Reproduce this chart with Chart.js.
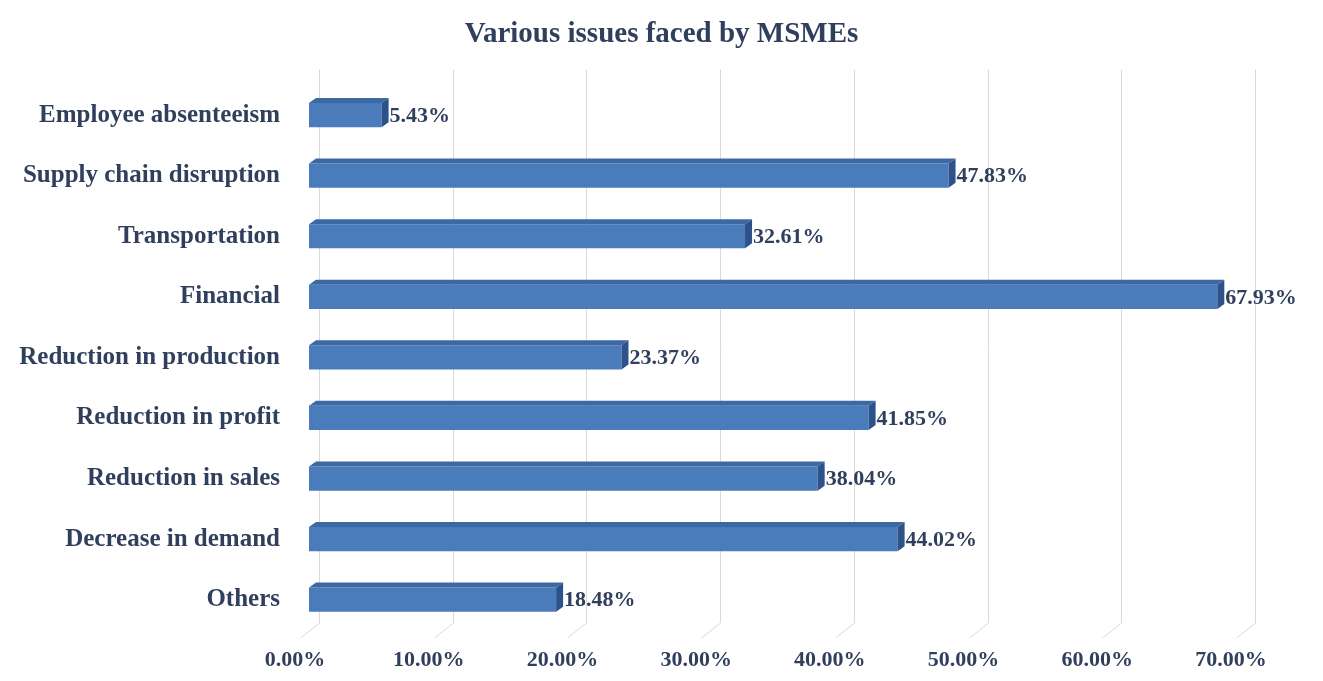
<!DOCTYPE html>
<html>
<head>
<meta charset="utf-8">
<script src="https://cdn.jsdelivr.net/npm/chart.js@4.4.0/dist/chart.umd.min.js"></script>
<style>
  html, body { margin: 0; padding: 0; background: #fff; }
  #wrap { width: 1323px; height: 681px; }
</style>
</head>
<body>
<div id="wrap"><canvas id="issuesChart"></canvas></div>
<script>
// categories, top to bottom as in the picture
const issues = ['Employee absenteeism', 'Supply chain disruption', 'Transportation', 'Financial',
    'Reduction in production', 'Reduction in profit', 'Reduction in sales', 'Decrease in demand', 'Others'];
const shares = [5.43, 47.83, 32.61, 67.93, 23.37, 41.85, 38.04, 44.02, 18.48]; // %
const tickValues = [0, 10, 20, 30, 40, 50, 60, 70];

const textColor = '#2f3f5c';
const serif = '"Liberation Serif", "DejaVu Serif", serif';
const DX = 7, DY = 5; // 3d depth of the bars

// grid drawn as a back wall with a little slanted foot, like the excel 3d bar
const wallGrid = {
    id: 'wallGrid',
    beforeDatasetsDraw(chart) {
        const { ctx, chartArea, scales } = chart;
        ctx.save();
        ctx.strokeStyle = '#d9d9d9';
        ctx.lineWidth = 1;
        tickValues.forEach(v => {
            const x = Math.round(scales.x.getPixelForValue(v)) + 10.5;
            ctx.beginPath();
            ctx.moveTo(x, chartArea.top - 15);
            ctx.lineTo(x, chartArea.bottom - 7);
            ctx.lineTo(x - 19, chartArea.bottom + 8);
            ctx.stroke();
        });
        ctx.restore();
    }
};

// top and side faces + value labels
const bar3d = {
    id: 'bar3d',
    afterDatasetsDraw(chart) {
        const { ctx } = chart;
        const meta = chart.getDatasetMeta(0);
        ctx.save();
        meta.data.forEach((bar, i) => {
            const x0 = bar.base, x1 = bar.x;
            const y0 = bar.y - bar.height / 2, y1 = bar.y + bar.height / 2;
            // top face
            ctx.fillStyle = '#3c69a3';
            ctx.beginPath();
            ctx.moveTo(x0, y0);
            ctx.lineTo(x0 + DX, y0 - DY);
            ctx.lineTo(x1 + DX, y0 - DY);
            ctx.lineTo(x1, y0);
            ctx.closePath();
            ctx.fill();
            // side face
            ctx.fillStyle = '#2d5189';
            ctx.beginPath();
            ctx.moveTo(x1, y0);
            ctx.lineTo(x1 + DX, y0 - DY);
            ctx.lineTo(x1 + DX, y1 - DY);
            ctx.lineTo(x1, y1);
            ctx.closePath();
            ctx.fill();
            // value
            ctx.fillStyle = textColor;
            ctx.font = 'bold 22px ' + serif;
            ctx.textAlign = 'left';
            ctx.textBaseline = 'middle';
            ctx.fillText(shares[i].toFixed(2) + '%', x1 + DX + 1, bar.y + 1);
        });
        ctx.restore();
    }
};

new Chart(document.getElementById('issuesChart'), {
    type: 'bar',
    data: {
        labels: issues,
        datasets: [{
            data: shares,
            backgroundColor: '#4a7bbb',
            borderWidth: 0,
            barPercentage: 0.4,
            categoryPercentage: 1
        }]
    },
    options: {
        indexAxis: 'y',
        responsive: true,
        maintainAspectRatio: false,
        animation: false,
        layout: { padding: 0 },
        plugins: {
            legend: { display: false },
            tooltip: { enabled: false },
            title: {
                display: true,
                text: 'Various issues faced by MSMEs',
                color: textColor,
                font: { family: serif, size: 29, weight: 'bold' },
                padding: { top: 17, bottom: 33 }
            }
        },
        scales: {
            x: {
                min: 0,
                max: 70,
                afterBuildTicks: s => { s.ticks = tickValues.map(v => ({ value: v })); },
                afterFit: s => { s.height = 51; },
                grid: { display: false, drawTicks: false },
                border: { display: false },
                ticks: {
                    color: textColor,
                    font: { family: serif, size: 22, weight: 'bold' },
                    padding: 17,
                    labelOffset: -14,
                    maxRotation: 0,
                    callback: v => v.toFixed(2) + '%'
                }
            },
            y: {
                afterFit: s => { s.width = 309; },
                grid: { display: false, drawTicks: false },
                border: { display: false },
                ticks: {
                    color: textColor,
                    font: { family: serif, size: 25, weight: 'bold' },
                    padding: 29
                }
            },
            // empty right-hand band so the plot ends at 70% like the picture
            yRight: {
                type: 'category',
                position: 'right',
                afterFit: s => { s.width = 78; },
                grid: { display: false, drawTicks: false },
                border: { display: false },
                ticks: { display: false }
            }
        }
    },
    plugins: [wallGrid, bar3d]
});
</script>
</body>
</html>
